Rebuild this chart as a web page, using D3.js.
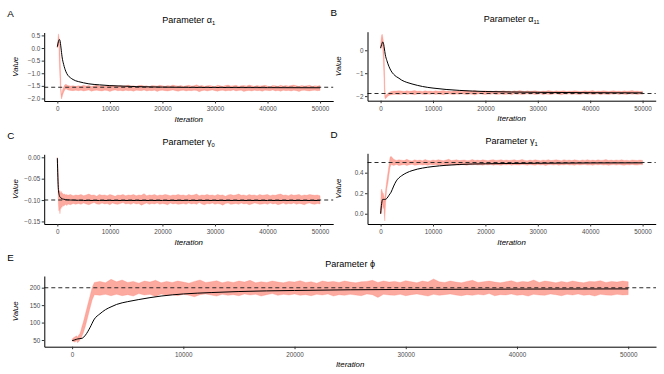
<!DOCTYPE html>
<html>
<head>
<meta charset="utf-8">
<script src="https://cdn.jsdelivr.net/npm/d3@7"></script>
<style>
  body { margin: 0; background: #fff; }
  svg text { font-family: "Liberation Sans", Arial, sans-serif; }
</style>
</head>
<body>
<div id="chart"></div>
<script>
const traceIter = [0, 100, 200, 300, 400, 500, 600, 700, 800, 900,
  1000, 1200, 1400, 1600, 1800, 2000, 2500, 3000, 3500,
  4000, 4500, 5000, 5500, 6000, 6500, 7000, 7500, 8000, 8500,
  9000, 9500, 10000, 10500, 11000, 11500, 12000, 12500, 13000, 13500,
  14000, 14500, 15000, 15500, 16000, 16500, 17000, 17500, 18000, 18500,
  19000, 19500, 20000, 20500, 21000, 21500, 22000, 22500, 23000, 23500,
  24000, 24500, 25000, 25500, 26000, 26500, 27000, 27500, 28000, 28500,
  29000, 29500, 30000, 30500, 31000, 31500, 32000, 32500, 33000, 33500,
  34000, 34500, 35000, 35500, 36000, 36500, 37000, 37500, 38000, 38500,
  39000, 39500, 40000, 40500, 41000, 41500, 42000, 42500, 43000, 43500,
  44000, 44500, 45000, 45500, 46000, 46500, 47000, 47500, 48000, 48500,
  49000, 49500, 50000];

// iterations for the running mean
const meanIter = [0, 200, 400, 500, 700, 900, 1200, 1600, 2000, 2500, 3000, 3500,
  4000, 5000, 6000, 8000, 10000, 12500, 15000, 20000, 25000, 30000, 40000, 50000];

const xTicks = [0, 10000, 20000, 30000, 40000, 50000];

// alpha_1
const loA = [0.00, 0.05, 0.15, 0.05, -0.70, -1.20, -1.60, -1.90, -2.02, -1.95,
  -1.86, -1.75, -1.66, -1.62, -1.63, -1.66, -1.68, -1.69, -1.67,
  -1.69, -1.67, -1.70, -1.68, -1.66, -1.71, -1.68, -1.67, -1.69, -1.70,
  -1.67, -1.68, -1.72, -1.68, -1.66, -1.69, -1.68, -1.70, -1.67, -1.69,
  -1.68, -1.71, -1.67, -1.68, -1.69, -1.66, -1.70, -1.68, -1.69, -1.67,
  -1.72, -1.68, -1.67, -1.69, -1.70, -1.68, -1.66, -1.69, -1.71, -1.68,
  -1.67, -1.70, -1.68, -1.69, -1.67, -1.68, -1.73, -1.69, -1.67, -1.70,
  -1.68, -1.66, -1.69, -1.71, -1.68, -1.67, -1.70, -1.68, -1.69, -1.66,
  -1.70, -1.68, -1.67, -1.72, -1.69, -1.68, -1.70, -1.67, -1.69, -1.68,
  -1.71, -1.67, -1.68, -1.69, -1.66, -1.70, -1.68, -1.71, -1.67, -1.69,
  -1.68, -1.70, -1.67, -1.69, -1.72, -1.68, -1.67, -1.69, -1.70, -1.68,
  -1.67, -1.69, -1.68];
const hiA = [0.08, 0.30, 0.56, 0.45, 0.20, -0.20, -0.90, -1.60, -1.85, -1.78,
  -1.66, -1.55, -1.47, -1.44, -1.46, -1.49, -1.51, -1.50, -1.52,
  -1.50, -1.52, -1.48, -1.51, -1.49, -1.53, -1.50, -1.47, -1.51, -1.50,
  -1.52, -1.49, -1.51, -1.48, -1.50, -1.52, -1.49, -1.51, -1.50, -1.47,
  -1.51, -1.50, -1.52, -1.49, -1.48, -1.51, -1.50, -1.53, -1.49, -1.50,
  -1.51, -1.48, -1.50, -1.52, -1.49, -1.51, -1.47, -1.50, -1.51, -1.49,
  -1.52, -1.50, -1.48, -1.51, -1.50, -1.46, -1.51, -1.49, -1.52, -1.50,
  -1.49, -1.51, -1.53, -1.48, -1.50, -1.52, -1.49, -1.47, -1.51, -1.50,
  -1.48, -1.52, -1.50, -1.49, -1.51, -1.47, -1.50, -1.52, -1.49, -1.51,
  -1.50, -1.48, -1.51, -1.53, -1.49, -1.50, -1.52, -1.48, -1.51, -1.49,
  -1.51, -1.49, -1.47, -1.50, -1.52, -1.49, -1.51, -1.50, -1.48, -1.52,
  -1.50, -1.51, -1.49];
const meanA = [0.05, 0.25, 0.34, 0.30, 0.00, -0.35, -0.65, -0.92, -1.08, -1.18, -1.25, -1.30,
  -1.33, -1.38, -1.42, -1.46, -1.49, -1.51, -1.53, -1.55, -1.56, -1.565, -1.57, -1.575];
const truthA = -1.555;

// alpha_11
const loB = [0.05, 0.10, 0.20, 0.30, 0.10, -0.30, -0.90, -1.60, -2.05, -2.12,
  -2.10, -2.05, -2.00, -1.97, -1.95, -1.94, -1.93, -1.92, -1.93,
  -1.92, -1.90, -1.93, -1.91, -1.92, -1.94, -1.91, -1.90, -1.92, -1.93,
  -1.91, -1.92, -1.90, -1.93, -1.91, -1.92, -1.94, -1.91, -1.90, -1.92,
  -1.93, -1.91, -1.92, -1.90, -1.92, -1.93, -1.91, -1.92, -1.95, -1.91,
  -1.90, -1.92, -1.93, -1.91, -1.92, -1.90, -1.93, -1.92, -1.91, -1.93,
  -1.92, -1.91, -1.94, -1.90, -1.92, -1.91, -1.93, -1.92, -1.90, -1.92,
  -1.91, -1.93, -1.92, -1.90, -1.94, -1.91, -1.92, -1.93, -1.91, -1.90,
  -1.92, -1.94, -1.91, -1.92, -1.90, -1.93, -1.91, -1.92, -1.93, -1.91,
  -1.90, -1.92, -1.91, -1.93, -1.92, -1.90, -1.94, -1.91, -1.92, -1.93,
  -1.91, -1.92, -1.90, -1.93, -1.91, -1.92, -1.93, -1.90, -1.92, -1.91,
  -1.93, -1.91, -1.92];
const hiB = [0.20, 0.50, 0.65, 0.70, 0.60, 0.45, 0.20, -0.40, -1.50, -1.95,
  -1.98, -1.92, -1.88, -1.84, -1.82, -1.80, -1.78, -1.78, -1.77,
  -1.78, -1.80, -1.77, -1.79, -1.78, -1.76, -1.79, -1.78, -1.80, -1.77,
  -1.79, -1.78, -1.80, -1.77, -1.79, -1.78, -1.76, -1.79, -1.78, -1.80,
  -1.77, -1.79, -1.78, -1.80, -1.78, -1.77, -1.79, -1.78, -1.75, -1.79,
  -1.80, -1.78, -1.77, -1.79, -1.78, -1.80, -1.77, -1.79, -1.78, -1.77,
  -1.79, -1.78, -1.80, -1.77, -1.79, -1.76, -1.78, -1.80, -1.77, -1.79,
  -1.78, -1.77, -1.79, -1.80, -1.78, -1.79, -1.76, -1.78, -1.80, -1.77,
  -1.79, -1.78, -1.77, -1.80, -1.78, -1.79, -1.77, -1.78, -1.80, -1.79,
  -1.77, -1.79, -1.78, -1.76, -1.80, -1.78, -1.79, -1.77, -1.78, -1.80,
  -1.78, -1.77, -1.79, -1.78, -1.80, -1.77, -1.79, -1.78, -1.76, -1.79,
  -1.78, -1.80, -1.79];
const meanB = [0.10, 0.25, 0.36, 0.34, 0.10, -0.20, -0.45, -0.71, -0.90, -1.05, -1.15, -1.22,
  -1.30, -1.40, -1.47, -1.58, -1.65, -1.71, -1.75, -1.80, -1.82, -1.835, -1.85, -1.86];
const truthB = -1.885;

// gamma_0
const loC = [-0.002, -0.060, -0.110, -0.125, -0.120, -0.132, -0.118, -0.120, -0.115, -0.117,
  -0.113, -0.114, -0.112, -0.110, -0.113, -0.109, -0.111, -0.108, -0.110,
  -0.108, -0.110, -0.107, -0.109, -0.111, -0.108, -0.106, -0.109, -0.110, -0.107,
  -0.109, -0.108, -0.111, -0.107, -0.109, -0.110, -0.108, -0.106, -0.109, -0.108,
  -0.110, -0.107, -0.109, -0.108, -0.112, -0.109, -0.107, -0.110, -0.108, -0.109,
  -0.107, -0.110, -0.108, -0.109, -0.111, -0.107, -0.109, -0.108, -0.110, -0.109,
  -0.108, -0.110, -0.107, -0.109, -0.108, -0.110, -0.106, -0.109, -0.111, -0.108,
  -0.109, -0.107, -0.110, -0.108, -0.109, -0.112, -0.108, -0.107, -0.110, -0.109,
  -0.108, -0.110, -0.107, -0.109, -0.108, -0.111, -0.109, -0.107, -0.108, -0.110,
  -0.109, -0.108, -0.110, -0.107, -0.109, -0.108, -0.111, -0.109, -0.107, -0.110,
  -0.108, -0.109, -0.107, -0.110, -0.108, -0.109, -0.111, -0.108, -0.107, -0.109,
  -0.110, -0.108, -0.109];
const hiC = [0.000, -0.010, -0.050, -0.075, -0.080, -0.078, -0.082, -0.085, -0.080, -0.086,
  -0.084, -0.087, -0.086, -0.088, -0.087, -0.089, -0.087, -0.090, -0.088,
  -0.089, -0.087, -0.090, -0.088, -0.086, -0.089, -0.088, -0.091, -0.087, -0.089,
  -0.088, -0.090, -0.087, -0.089, -0.091, -0.088, -0.089, -0.087, -0.090, -0.088,
  -0.089, -0.087, -0.090, -0.088, -0.089, -0.085, -0.090, -0.088, -0.089, -0.087,
  -0.090, -0.088, -0.089, -0.087, -0.088, -0.090, -0.088, -0.089, -0.087, -0.089,
  -0.088, -0.090, -0.087, -0.089, -0.088, -0.086, -0.090, -0.088, -0.089, -0.087,
  -0.089, -0.088, -0.090, -0.087, -0.089, -0.088, -0.091, -0.088, -0.087, -0.089,
  -0.088, -0.086, -0.089, -0.088, -0.090, -0.087, -0.089, -0.088, -0.090, -0.087,
  -0.089, -0.088, -0.087, -0.090, -0.088, -0.089, -0.087, -0.086, -0.089, -0.088,
  -0.090, -0.087, -0.089, -0.088, -0.087, -0.090, -0.088, -0.089, -0.087, -0.088,
  -0.089, -0.088, -0.090];
const meanC = [-0.002, -0.075, -0.090, -0.093, -0.095, -0.097, -0.098, -0.099, -0.0995, -0.100, -0.100, -0.1005,
  -0.1005, -0.101, -0.101, -0.101, -0.101, -0.101, -0.101, -0.101, -0.101, -0.101, -0.101, -0.101];
const truthC = -0.1;

// gamma_1
const loD = [0.00, 0.05, 0.00, 0.08, 0.10, 0.05, 0.08, 0.00, -0.07, 0.05,
  0.15, 0.25, 0.30, 0.38, 0.45, 0.48, 0.47, 0.48, 0.47,
  0.475, 0.480, 0.470, 0.478, 0.482, 0.472, 0.476, 0.480, 0.474, 0.478,
  0.472, 0.479, 0.475, 0.481, 0.473, 0.477, 0.480, 0.471, 0.476, 0.479,
  0.474, 0.478, 0.472, 0.480, 0.476, 0.473, 0.479, 0.475, 0.481, 0.474,
  0.477, 0.472, 0.479, 0.475, 0.480, 0.473, 0.478, 0.476, 0.472, 0.479,
  0.475, 0.480, 0.473, 0.478, 0.476, 0.474, 0.481, 0.477, 0.472, 0.479,
  0.476, 0.473, 0.480, 0.475, 0.478, 0.471, 0.477, 0.479, 0.474, 0.480,
  0.473, 0.478, 0.476, 0.481, 0.474, 0.477, 0.472, 0.479, 0.475, 0.478,
  0.480, 0.474, 0.477, 0.473, 0.479, 0.476, 0.481, 0.474, 0.478, 0.472,
  0.477, 0.479, 0.474, 0.480, 0.476, 0.473, 0.478, 0.475, 0.481, 0.476,
  0.474, 0.479, 0.477];
const hiD = [0.04, 0.22, 0.24, 0.22, 0.20, 0.20, 0.18, 0.16, 0.12, 0.20,
  0.25, 0.33, 0.40, 0.47, 0.55, 0.56, 0.53, 0.52, 0.525,
  0.522, 0.518, 0.530, 0.520, 0.515, 0.525, 0.519, 0.523, 0.517, 0.528,
  0.520, 0.516, 0.524, 0.519, 0.527, 0.521, 0.517, 0.523, 0.530, 0.518,
  0.522, 0.526, 0.518, 0.521, 0.524, 0.517, 0.520, 0.528, 0.519, 0.523,
  0.518, 0.525, 0.521, 0.516, 0.523, 0.527, 0.519, 0.522, 0.526, 0.518,
  0.524, 0.519, 0.522, 0.526, 0.518, 0.521, 0.529, 0.520, 0.517, 0.523,
  0.519, 0.525, 0.521, 0.517, 0.524, 0.520, 0.527, 0.518, 0.522, 0.525,
  0.521, 0.517, 0.526, 0.520, 0.523, 0.518, 0.525, 0.521, 0.516, 0.524,
  0.520, 0.527, 0.519, 0.523, 0.518, 0.525, 0.520, 0.522, 0.528, 0.519,
  0.523, 0.518, 0.524, 0.520, 0.526, 0.519, 0.522, 0.517, 0.524, 0.521,
  0.519, 0.523, 0.520];
const meanD = [0.00, 0.10, 0.14, 0.14, 0.14, 0.14, 0.15, 0.18, 0.21, 0.27, 0.32, 0.35,
  0.37, 0.40, 0.42, 0.445, 0.46, 0.472, 0.48, 0.487, 0.49, 0.492, 0.495, 0.496];
const truthD = 0.5;

// phi
const loE = [48, 46, 44, 45, 48, 42, 46, 50, 55, 62,
  70, 90, 115, 140, 165, 180, 178, 181, 177,
  181, 177, 180, 176, 183, 179, 181, 175, 182, 178,
  180, 177, 181, 178, 174, 180, 182, 179, 176, 181,
  178, 180, 177, 182, 179, 181, 176, 180, 183, 178,
  181, 179, 182, 178, 180, 177, 181, 179, 182, 176,
  180, 178, 181, 179, 177, 182, 180, 172, 181, 179,
  178, 181, 177, 180, 182, 179, 176, 181, 178, 180,
  182, 179, 177, 180, 178, 181, 179, 183, 177, 180,
  179, 182, 178, 180, 176, 181, 179, 178, 182, 180,
  177, 181, 179, 182, 178, 180, 176, 181, 179, 178,
  181, 179, 180];
const hiE = [52, 56, 58, 60, 62, 58, 64, 68, 78, 90,
  100, 125, 150, 175, 200, 215, 218, 214, 224,
  217, 222, 215, 218, 213, 219, 216, 221, 214, 218,
  215, 219, 216, 213, 218, 222, 215, 217, 220, 214,
  218, 215, 219, 216, 221, 214, 217, 215, 219, 216,
  214, 218, 216, 220, 215, 217, 213, 219, 216, 218,
  215, 219, 216, 214, 217, 218, 221, 215, 219, 216,
  218, 215, 220, 217, 214, 219, 216, 225, 217, 215,
  219, 216, 214, 218, 221, 215, 217, 219, 216, 214,
  217, 220, 215, 218, 216, 222, 215, 219, 217, 214,
  218, 215, 219, 216, 214, 218, 217, 220, 215, 218,
  216, 219, 217];
const meanE = [48, 50, 52, 53, 54, 55, 64, 85, 110, 125, 137, 145,
  152, 160, 166, 176, 182, 186, 189, 192, 194, 195, 196, 196.5];
const truthE = 200;

const width = 664, height = 374;
const svg = d3.select("#chart").append("svg")
  .attr("width", width)
  .attr("height", height);

const panels = [
  { label: "A", sym: "\u03b1", sub: "1", box: { x0: 44.2, x1: 333.2, y0: 32.5, y1: 101 },
    yDomain: [-2.1, 0.615], yTicks: [-2, -1.5, -1, -0.5, 0, 0.5], fmt: ".1f",
    lo: loA, hi: hiA, mean: meanA, truth: truthA },
  { label: "B", sym: "\u03b1", sub: "11", box: { x0: 367.5, x1: 655.7, y0: 31.7, y1: 100.7 },
    yDomain: [-2.2, 0.81], yTicks: [-2, -1, 0], fmt: "d",
    lo: loB, hi: hiB, mean: meanB, truth: truthB },
  { label: "C", sym: "\u03b3", sub: "0", box: { x0: 44.2, x1: 333.2, y0: 154.3, y1: 224 },
    yDomain: [-0.156, 0.007], yTicks: [-0.15, -0.1, -0.05, 0], fmt: ".2f",
    lo: loC, hi: hiC, mean: meanC, truth: truthC },
  { label: "D", sym: "\u03b3", sub: "1", box: { x0: 367.5, x1: 655.7, y0: 153.3, y1: 224 },
    yDomain: [-0.1, 0.589], yTicks: [0, 0.2, 0.4], fmt: ".1f",
    lo: loD, hi: hiD, mean: meanD, truth: truthD },
  { label: "E", sym: "\u03d5", sub: "", box: { x0: 44.3, x1: 656, y0: 276, y1: 346.7 },
    yDomain: [30.8, 233.5], yTicks: [50, 100, 150, 200], fmt: "d",
    lo: loE, hi: hiE, mean: meanE, truth: truthE },
];

panels.forEach(drawPanel);

function drawPanel(p) {
  const b = p.box;
  const x = d3.scaleLinear().domain([-2500, 52500]).range([b.x0, b.x1]);
  const y = d3.scaleLinear().domain(p.yDomain).range([b.y1, b.y0]);
  const g = svg.append("g");

  const rows = traceIter.map((it, i) => ({ it: it, lo: p.lo[i], hi: p.hi[i] }));
  const band = d3.area()
    .x((d) => x(d.it))
    .y0((d) => y(d.lo))
    .y1((d) => y(d.hi));

  g.append("path")
    .datum(rows)
    .attr("d", band)
    .attr("fill", "#fa8072")
    .attr("fill-opacity", 0.68)
    .attr("stroke", "#fa8072")
    .attr("stroke-opacity", 0.4)
    .attr("stroke-width", 0.7);

  const meanLine = d3.line()
    .curve(d3.curveMonotoneX)
    .x((d, i) => x(meanIter[i]))
    .y((d) => y(d));

  g.append("path")
    .datum(p.mean)
    .attr("d", meanLine)
    .attr("fill", "none")
    .attr("stroke", "#000")
    .attr("stroke-width", 1);

  g.append("line")
    .attr("x1", b.x0).attr("x2", b.x1)
    .attr("y1", y(p.truth)).attr("y2", y(p.truth))
    .attr("stroke", "#2b2b2b")
    .attr("stroke-width", 1.1)
    .attr("stroke-dasharray", "4,3");

  // axes
  const xAxis = g.append("g")
    .attr("transform", "translate(0," + b.y1 + ")")
    .call(d3.axisBottom(x).tickValues(xTicks).tickFormat(d3.format("d"))
      .tickSize(2.5).tickSizeOuter(0).tickPadding(3.5));
  const yAxis = g.append("g")
    .attr("transform", "translate(" + b.x0 + ",0)")
    .call(d3.axisLeft(y).tickValues(p.yTicks).tickFormat(d3.format(p.fmt))
      .tickSize(2.5).tickSizeOuter(0).tickPadding(1.5));

  [xAxis, yAxis].forEach((a) => {
    a.select(".domain").attr("stroke", "#000").attr("stroke-width", 1);
    a.selectAll(".tick line").attr("stroke", "#333");
    a.selectAll(".tick text")
      .attr("fill", "#4d4d4d")
      .attr("font-size", 6.3)
      .attr("font-family", "Liberation Sans, Arial, sans-serif");
  });

  // titles
  const cx = (b.x0 + b.x1) / 2;
  const t = g.append("text")
    .attr("x", cx)
    .attr("y", b.y0 - 9.3)
    .attr("text-anchor", "middle")
    .attr("font-size", 9)
    .attr("fill", "#000");
  t.append("tspan").text("Parameter " + p.sym);
  if (p.sub) {
    t.append("tspan").attr("font-size", 5.8).attr("dy", 2).text(p.sub);
  }

  g.append("text")
    .attr("x", b.x0 - 37)
    .attr("y", b.y0 - 15.3)
    .attr("font-size", 9.8)
    .attr("fill", "#000")
    .text(p.label);

  g.append("text")
    .attr("x", cx)
    .attr("y", b.y1 + 20.5)
    .attr("text-anchor", "middle")
    .attr("font-size", 7.9)
    .attr("font-style", "italic")
    .attr("fill", "#000")
    .text("Iteration");

  g.append("text")
    .attr("transform", "translate(" + (b.x0 - 26.5) + "," + (b.y0 + b.y1) / 2 + ") rotate(-90)")
    .attr("text-anchor", "middle")
    .attr("font-size", 7.9)
    .attr("font-style", "italic")
    .attr("fill", "#000")
    .text("Value");
}
</script>
</body>
</html>
